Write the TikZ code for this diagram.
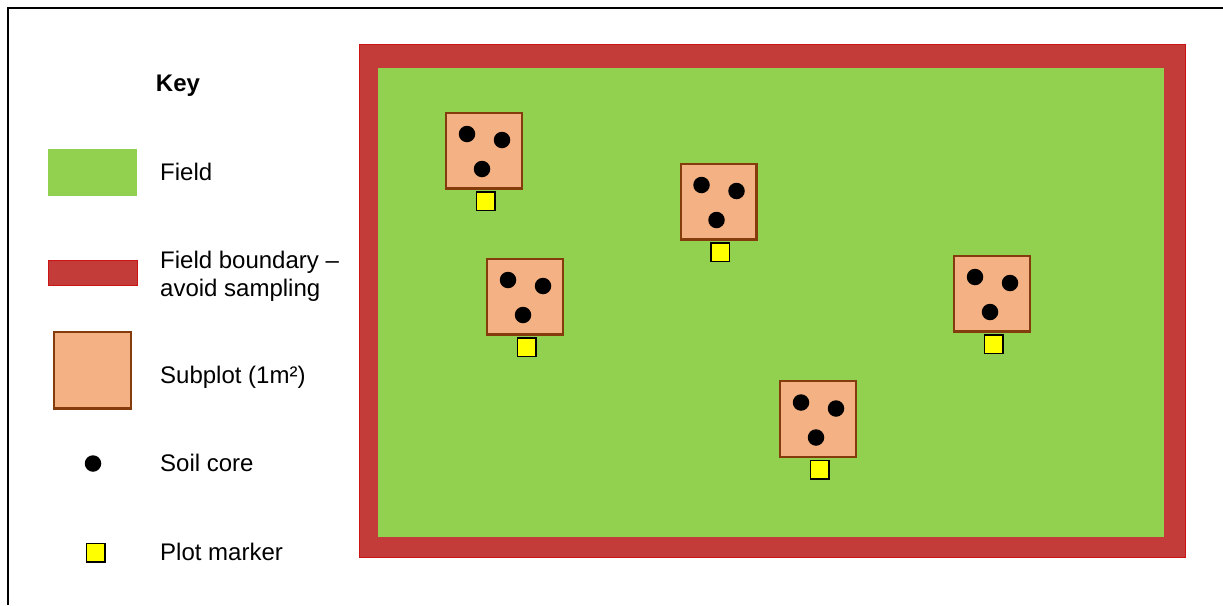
\documentclass[tikz,border=0pt]{standalone}
\usepackage{fontspec}
\setmainfont{Liberation Sans}
\definecolor{fieldgreen}{RGB}{146,208,80}
\definecolor{boundred}{RGB}{195,60,58}
\definecolor{boundline}{RGB}{204,20,20}
\definecolor{subfill}{RGB}{244,177,131}
\definecolor{subline}{RGB}{132,60,12}
\definecolor{markyellow}{RGB}{255,255,0}
\tikzset{
  fieldbox/.style={rectangle, fill=fieldgreen, draw=none, inner sep=0pt},
  boundbox/.style={rectangle, fill=boundred, draw=boundline, line width=1pt, inner sep=0pt},
  subplot/.style={rectangle, fill=subfill, draw=subline, line width=2.4pt, minimum size=75.6pt, inner sep=0pt},
  core/.style={circle, fill=black, draw=none, minimum size=16.5pt, inner sep=0pt},
  plotmark/.style={rectangle, fill=markyellow, draw=black, line width=1.5pt, minimum size=18.5pt, inner sep=0pt},
  keytext/.style={anchor=base west, inner sep=0pt, font=\fontsize{24}{28.5}\selectfont},
  frameline/.style={draw=black, line width=2pt}
}
\begin{document}
\begin{tikzpicture}[x=1pt, y=-1pt]
\useasboundingbox (0,0) rectangle (1223,605);
% frame
\coordinate (fbl) at (7.5,605);
\coordinate (ftl) at (7.5,7.5);
\coordinate (ftr) at (1223,7.5);
\draw[frameline] (fbl) -- (ftl) -- (ftr);
% key
\node[anchor=base, inner sep=0pt, font=\fontsize{24}{28}\selectfont\bfseries] (keytitle) at (178,91.5) {Key};
\node[fieldbox, minimum width=89pt, minimum height=47pt] (kfield) at (92.5,172.5) {};
\node[keytext] (kfieldt) at (160,180) {Field};
\node[boundbox, minimum width=89pt, minimum height=24.5pt] (kbound) at (93,273) {};
\node[keytext] (kboundt) at (160,268.3) {Field boundary –};
\node[keytext] (kboundt2) at (160,296.8) {avoid sampling};
\node[subplot, minimum size=76.6pt] (ksub) at (92.5,370) {};
\node[keytext] (ksubt) at (160,383.3) {Subplot (1m²)};
\node[core] (kcore) at (93,463.5) {};
\node[keytext] (kcoret) at (160,471.7) {Soil core};
\node[plotmark] (kmark) at (95.7,552.5) {};
\node[keytext] (kmarkt) at (160,560) {Plot marker};
% field
\node[boundbox, minimum width=826pt, minimum height=513pt] (boundary) at (772.5,301) {};
\node[fieldbox, minimum width=786pt, minimum height=469pt] (field) at (771,302.5) {};
% subplots
\foreach \i/\x/\y in {1/484/150.5, 2/718.5/201.5, 3/525/296.5, 4/992/293.5, 5/818/419}{
  \node[subplot] (sp\i) at (\x,\y) {};
  \node[core] (sp\i a) at ([shift={(-17,-16.5)}]sp\i.center) {};
  \node[core] (sp\i b) at ([shift={(18,-10.5)}]sp\i.center) {};
  \node[core] (sp\i c) at ([shift={(-2,18.5)}]sp\i.center) {};
  \node[plotmark] (pm\i) at ([shift={(1.5,50.5)}]sp\i.center) {};
}
\end{tikzpicture}
\end{document}
